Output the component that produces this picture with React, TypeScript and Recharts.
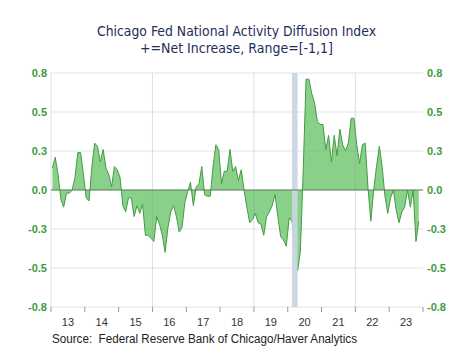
import { ComposedChart, Area, XAxis, YAxis, CartesianGrid, ReferenceLine, ReferenceArea } from 'recharts';

// monthly values, Jan 2013 .. Nov 2023
const firstYear = 2013;
const yearLabels = ['13', '14', '15', '16', '17', '18', '19', '20', '21', '22', '23'];
const diffusion = [
  // 2013
  0.14, 0.21, 0.10, -0.06, -0.11, -0.02, -0.02, 0.00, 0.08, 0.24, 0.24, 0.10,
  // 2014
  -0.05, -0.07, 0.15, 0.30, 0.28, 0.18, 0.26, 0.14, 0.10, 0.02, 0.15, 0.13,
  // 2015
  0.08, -0.10, -0.14, -0.05, -0.05, -0.17, -0.10, -0.15, -0.09, -0.29, -0.29, -0.31,
  // 2016
  -0.33, -0.17, -0.22, -0.29, -0.40, -0.24, -0.14, -0.10, -0.17, -0.27, -0.24, -0.08,
  // 2017
  -0.01, 0.05, -0.10, 0.02, 0.04, 0.15, -0.03, -0.04, -0.04, 0.15, 0.29, 0.26,
  // 2018
  0.04, 0.12, 0.12, 0.26, 0.12, 0.15, 0.06, 0.13, 0.00, -0.11, -0.21, -0.19,
  // 2019
  -0.15, -0.21, -0.22, -0.29, -0.17, -0.14, -0.10, -0.03, -0.17, -0.30, -0.32, -0.36,
  // 2020
  -0.18, -0.20, -0.35, -0.52, -0.39, 0.13, 0.71, 0.71, 0.62, 0.56, 0.44, 0.42,
  // 2021
  0.42, 0.26, 0.35, 0.18, 0.35, 0.22, 0.39, 0.29, 0.25, 0.30, 0.46, 0.46,
  // 2022
  0.29, 0.17, 0.29, 0.30, 0.01, -0.20, 0.00, 0.15, 0.28, 0.15, -0.04, -0.15,
  // 2023
  -0.05, 0.00, -0.13, -0.21, -0.14, -0.11, 0.00, -0.11, 0.00, -0.33, -0.20,
];
const yTicks = [-0.75, -0.5, -0.25, 0, 0.25, 0.5, 0.75];
const recession = ['2020-02', '2020-04'];
const gridYears = [2013, 2016, 2019, 2022];

const W = 474;
const H = 355;
const axisW = 51;
const plotW = W - axisW * 2;
const months = yearLabels.length * 12;
const yearPx = (plotW / months) * 12;

const monthPos = (ym: string) => {
  const [y, m] = ym.split('-').map(Number);
  return (y - firstYear) * 12 + (m - 1) + 0.5;
};

const data = diffusion.map((v, i) => ({ t: i + 0.5, v }));
const xTicks = yearLabels.map((_, i) => i * 12).concat(months);

const green = '#3d9b3d';
const gridColor = '#e0e3e8';
const sans = '"Liberation Sans", Arial, sans-serif';

const YearTick = ({ x, y, payload }: any) => {
  const k = Math.round(payload.value / 12);
  if (k >= yearLabels.length) return <g />;
  return (
    <text x={x + yearPx / 2} y={y} dy={12} textAnchor="middle" fontSize={11} fill="#333" fontFamily={sans}>
      {yearLabels[k]}
    </text>
  );
};

const App = () => {
  const yTick = { fill: green, fontSize: 11, fontWeight: 'bold', fontFamily: sans };
  return (
    <div style={{ position: 'absolute', left: 0, top: 0, width: W, height: H, background: '#fff' }}>
      <ComposedChart width={W} height={H} data={data} margin={{ top: 73, right: 0, bottom: 0, left: 0 }}>
        <CartesianGrid yAxisId="left" stroke={gridColor} vertical={false} />
        <XAxis
          type="number"
          dataKey="t"
          domain={[0, months]}
          ticks={xTicks}
          interval={0}
          height={48}
          axisLine={false}
          tickSize={5}
          tickLine={{ stroke: '#999' }}
          tick={<YearTick />}
        />
        <YAxis
          yAxisId="left"
          type="number"
          domain={[-0.75, 0.75]}
          ticks={yTicks}
          allowDataOverflow
          width={axisW}
          axisLine={false}
          tickLine={false}
          tickSize={2}
          tickMargin={2}
          tick={yTick}
          tickFormatter={(v: number) => v.toFixed(1)}
        />
        <YAxis
          yAxisId="right"
          orientation="right"
          type="number"
          domain={[-0.75, 0.75]}
          ticks={yTicks}
          allowDataOverflow
          width={axisW}
          axisLine={false}
          tickLine={false}
          tickSize={2}
          tickMargin={2}
          tick={yTick}
          tickFormatter={(v: number) => v.toFixed(1)}
        />
        <Area
          yAxisId="left"
          type="linear"
          dataKey="v"
          baseValue={0}
          stroke="#459a45"
          strokeWidth={1}
          fill="#5cbf5c"
          fillOpacity={0.72}
          dot={false}
          activeDot={false}
          isAnimationActive={false}
        />
        {/* vertical grid every third year, translucent so it shows faintly through the fill */}
        {gridYears.map((y) => (
          <ReferenceLine key={y} yAxisId="left" x={(y - firstYear) * 12} stroke="#7a8aa4" strokeOpacity={0.25} />
        ))}
        <ReferenceLine yAxisId="left" y={0} stroke="#5f7f5f" />
        <ReferenceArea
          yAxisId="left"
          x1={monthPos(recession[0])}
          x2={monthPos(recession[1])}
          fill="#c9d6e2"
          fillOpacity={0.95}
          stroke="none"
        />
      </ComposedChart>
      <svg width={W} height={H} style={{ position: 'absolute', left: 0, top: 0, pointerEvents: 'none' }}>
        <text x={236.5} y={36} textAnchor="middle" fontSize={14} fill="#1f2d5c" fontFamily='"DejaVu Sans", sans-serif' textLength={279} lengthAdjust="spacingAndGlyphs">
          Chicago Fed National Activity Diffusion Index
        </text>
        <text x={236.5} y={53} textAnchor="middle" fontSize={14} fill="#1f2d5c" fontFamily='"DejaVu Sans", sans-serif' textLength={193} lengthAdjust="spacingAndGlyphs">
          +=Net Increase, Range=[-1,1]
        </text>
        <text x={52} y={343} fontSize={12.5} fill="#222" fontFamily={sans} textLength={305} lengthAdjust="spacingAndGlyphs" style={{ whiteSpace: 'pre' }}>
          {'Source:  Federal Reserve Bank of Chicago/Haver Analytics'}
        </text>
      </svg>
    </div>
  );
};

export default App;
